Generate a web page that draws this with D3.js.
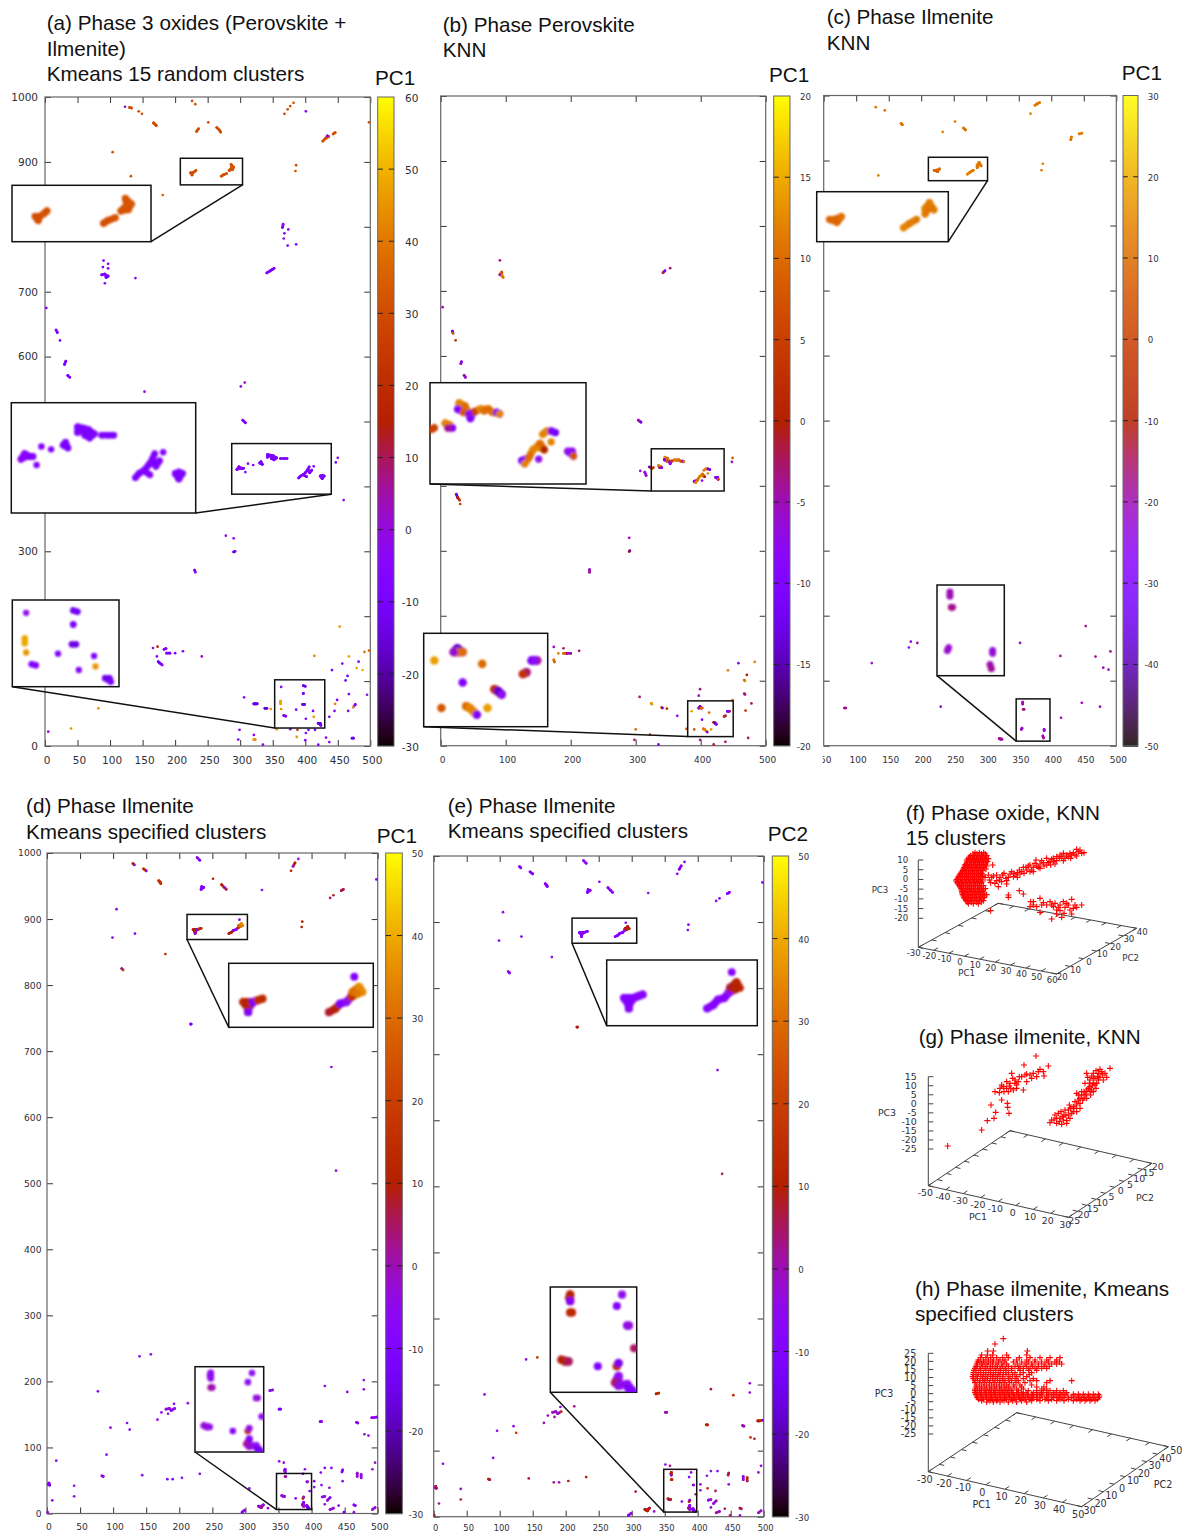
<!DOCTYPE html>
<html>
<head>
<meta charset="utf-8">
<script src="https://d3js.org/d3.v7.min.js"></script>
<style>
  body { margin: 0; background: #fff; }
  svg { display: block; }
  text { fill: #2f2f3a; font-family: "DejaVu Sans", sans-serif; }
  .title, .barname { fill: #111; font-family: "Liberation Sans", Arial, sans-serif; font-size: 20.7px; }
</style>
</head>
<body>
<svg id="chart" width="1182" height="1533"></svg>
<script>
// map points are [x, y, value]
const spotsA = [
  [123,985,0],[130,984,31],[133,983,31],[144,978,31],[149,974,31],[169,958,31],[167,960,31],[171,956,31],[226,994,32],[231,989,33],
  [251,961,30],[236,951,30],[233,947,31],[264,953,30],[268,949,31],[270,946,30],[382,991,32],[377,986,31],[373,981,31],[368,974,30],
  [401,978,-3],[498,961,30],[446,945,30],[443,943,31],[436,939,30],[431,936,31],[427,932,31],[434,940,-8],[104,915,32],[386,895,31],[385,886,31],
  [132,878,30],[181,849,35],[224,883,31],[227,883,31],[230,885,32],[232,887,31],[226,880,31],[271,878,31],[274,880,31],[279,882,32],
  [283,887,32],[287,891,33],[290,892,33],[286,896,32],[288,888,32],[90,748,-7],[89,738,-5],[97,743,-5],[97,736,-7],[87,726,-9],[92,727,-9],
  [97,724,-9],[94,722,-9],[92,713,-5],[139,721,-3],[366,804,-3],[365,799,-5],[374,796,-3],[368,790,-3],[367,782,-3],[373,771,-7],[386,773,-7],
  [341,729,-8],[346,732,-8],[349,734,-8],[352,736,-8],[2,675,-5],[17,641,-8],[19,637,-8],[23,625,-7],[32,593,-8],[30,588,-8],[35,571,-7],[38,568,-8],
  [301,554,0],[307,560,0],[153,546,-3],[304,502,-7],[308,498,-7],[295,426,-4],[298,430,-5],[300,428,-5],[303,428,-8],[305,428,-7],[308,422,-7],
  [312,435,-7],[320,433,-7],[330,436,-10],[334,434,-10],[332,438,-9],[342,449,-8],[342,445,-8],[347,448,-8],[348,443,-8],[352,441,-8],[351,447,-8],
  [356,444,-8],[362,443,-8],[368,443,-8],[372,443,-8],[390,413,-9],[393,416,-8],[397,418,-8],[401,422,-8],[404,426,-8],[406,430,-8],[413,431,-7],
  [410,425,-9],[407,421,-7],[402,415,-5],[426,417,-8],[429,416,-8],[423,416,-8],[426,412,-8],[450,444,-3],[447,437,-7],[459,379,-2],[278,324,-3],
  [290,320,-2],[290,299,-12],[292,300,-10],[230,271,-4],[231,268,-4],[166,151,0],[173,153,15],[183,149,-4],[186,150,-5],[192,143,-8],[187,143,-6],
  [172,138,-4],[174,130,-10],[176,128,-10],[180,125,-2],[200,143,-6],[212,146,-9],[241,138,3],[414,139,42],[453,184,46],[467,138,48],[491,145,40],
  [498,147,35],[482,130,-9],[457,127,-2],[479,120,48],[488,117,50],[441,117,-8],[465,108,-12],[462,101,-12],[449,71,-8],[467,80,-10],[477,64,-6],
  [474,60,46],[446,65,42],[445,54,-6],[466,54,-5],[495,79,0],[474,12,-14],[472,12,-12],[437,6,-7],[437,45,-5],[432,13,-2],[420,2,-8],[299,25,-10],
  [321,17,-3],[321,10,45],[323,10,45],[297,10,-6],[335,2,-5],[306,75,-2],[321,65,-14],[323,65,-14],[326,65,-14],[338,58,-16],[341,58,-14],[347,57,45],
  [82,58,45],[40,27,45],[5,22,0],[363,91,-2],[397,93,-12],[400,92,-12],[397,81,-10],[397,81,-9],[396,64,-14],[399,64,-14],[362,69,48],[362,65,48],[363,57,45],
  [386,56,-8],[367,47,-6],[370,46,-6],[412,54,-8],[413,45,45],[401,42,-6],[420,35,-13],[423,35,-13],[424,32,-10],[405,25,-6],[415,25,-8],[401,20,-3],
  [387,14,45],[400,9,-3],[388,25,25],[356,26,45],[377,26,0]
];

const spotsB = [
  [91,747,-4],[94,729,8],[94,724,12],[96,721,10],[91,725,-6],[353,735,-3],[345,731,-10],[342,728,2],[3,675,-5],[18,638,-12],[19,635,8],[23,624,3],
  [32,591,-10],[31,588,-5],[36,570,-5],[38,567,-6],[24,387,-13],[26,382,0],[29,378,5],[30,372,5],[325,427,5],[335,431,12],[338,430,12],[340,428,-10],
  [337,428,-4],[345,444,12],[344,440,-10],[348,438,8],[353,434,-10],[349,442,10],[355,438,5],[352,437,-8],[360,440,12],[363,439,10],[366,440,10],[369,438,10],
  [372,438,-10],[374,437,12],[390,407,-10],[392,405,12],[395,409,10],[398,414,12],[401,416,12],[403,418,10],[405,424,12],[408,426,12],[414,425,-12],[411,419,12],
  [411,426,-10],[406,414,0],[402,408,-8],[426,413,-8],[423,413,-8],[427,410,8],[304,501,-5],[308,498,-12],[307,423,-6],[314,421,-8],[321,429,-12],[316,416,-5],
  [327,428,5],[449,443,8],[448,437,-6],[290,320,-5],[290,299,2],[291,300,-14],[229,271,-5],[229,267,-4],[174,152,-6],[174,132,10],[175,129,10],[181,142,12],
  [189,150,-3],[189,142,10],[194,142,-4],[200,142,-5],[213,146,-3],[442,116,12],[458,127,-8],[483,129,12],[471,109,0],[467,101,10],[468,100,12],[467,80,5],
  [468,79,-5],[478,65,-3],[469,54,3],[449,70,10],[444,53,-3],[438,46,-3],[473,12,-2],[438,6,-3],[420,2,-1],[399,87,-3],[397,77,-6],[306,75,-3],[324,65,12],
  [325,64,14],[340,59,8],[341,58,-13],[348,57,3],[364,46,-8],[300,25,10],[322,17,5],[298,9,-3],[335,2,-10],[399,60,-14],[399,58,10],[397,58,-6],[402,58,10],
  [386,53,14],[413,51,10],[441,53,-10],[443,53,-8],[436,45,3],[402,40,-10],[420,36,2],[422,35,-14],[424,33,-8],[404,26,10],[406,25,12],[390,25,8],[416,25,14],
  [410,21,-10],[378,26,8],[399,9,-3]
];

const spotsC = [
  [130,982,11],[144,977,11],[169,957,11],[171,955,11],[252,960,12],[265,950,11],[268,947,11],[233,944,14],[382,989,12],[375,985,12],[378,987,12],[368,972,13],
  [447,942,13],[443,941,13],[431,936,12],[430,932,12],[387,895,13],[385,885,12],[134,877,14],[220,885,9],[223,885,9],[225,883,9],[228,887,11],[271,879,14],[275,882,13],
  [280,885,12],[286,893,13],[289,894,12],[292,892,12],[286,889,12],[289,897,13],[184,160,-22],[181,151,-25],[194,158,-18],[124,127,-22],[82,58,-18],[84,58,-17],
  [230,60,-22],[352,158,-24],[453,184,-18],[414,138,-18],[468,137,-18],[491,145,-18],[480,120,-20],[488,117,-22],[447,66,-20],[475,60,-22],[415,43,-20],[322,10,-18],
  [320,11,-18],[324,10,-18],[356,67,-20],[356,64,-20],[357,56,-16],[358,56,-18],[355,27,-22],[354,25,-22],[389,25,-24],[389,23,-22],[387,15,-20],[388,12,-18]
];

// same pixels in (d) and (e): x, y, PC1, PC2
const ilmenitePoints = [
  [130,984,10,-7],[132,982,-5,-8],[146,976,15,-7],[150,973,-5,-8],[169,958,18,-6],[171,956,15,-7],[172,954,15,-6],[227,993,-5,-5],[231,989,-8,-6],[251,961,12,-7],
  [234,949,-10,-8],[237,948,-8,-6],[233,945,-10,-8],[264,952,10,-7],[268,948,-2,-8],[271,945,12,-7],[380,991,-3,-8],[375,985,10,-7],[372,980,-3,-8],[369,973,12,-7],
  [325,944,-5,-5],[498,960,-8,-7],[445,943,5,-8],[448,945,8,-7],[433,936,8,-8],[428,932,3,-8],[105,915,-8,-6],[133,878,-10,-7],[99,872,-5,-5],[179,847,15,-6],
  [113,825,0,-5],[115,823,20,-5],[386,896,12,-7],[385,888,10,-7],[217,741,-10,8],[218,741,-8,10],[430,676,-5,-5],[437,519,-5,5],
  [221,884,12,-9],[224,884,10,-9],[227,884,-8,-9],[230,885,14,-8],[233,886,14,-8],[224,880,10,-9],[224,878,-10,-8],
  [275,878,8,-8],[279,880,10,-8],[282,883,-10,-8],[286,884,-6,-8],[289,887,15,-6],[290,890,30,8],[294,893,35,10],[296,890,35,12],[293,889,32,10],[291,899,-10,-8],
  [140,238,-5,-3],[157,241,-5,18],[77,185,-5,-4],[121,137,-5,-4],[125,127,-8,18],[96,130,-5,-4],[90,89,-5,-4],[14,80,-5,-4],[3,46,-8,8],[2,44,-8,-5],[4,43,-8,8],
  [83,57,-5,8],[85,56,-6,8],[8,20,-5,3],[41,42,-5,-3],[41,26,-3,8],[144,58,-5,5],[182,52,-8,3],[190,52,-8,0],[204,54,-5,8],[231,60,-5,10],[167,142,-5,0],[173,153,-5,-2],
  [180,158,-5,0],[183,151,-5,3],[185,159,-5,-3],[188,156,-5,-2],[193,159,-5,18],[192,166,-10,-5],[213,167,-5,3],
  [360,67,-5,12],[359.5,65,-6,10],[360,63,-5,-8],[360,56,2,15],[361,56,0,12],[387,60,-6,-8],[390,67,-6,-5],[393,48,-6,-8],[397,34,-6,5],[357,26,-3,8],[359,26,-5,5],
  [355,27,-3,10],[376,23,-8,-10],[387,23,15,12],[388,25,-6,-12],[388,17,-8,-6],[386,13,2,5],[388,11,-3,-5],[393,12,-6,-6],[394,9,-14,-12],[396,8,-14,-10],
  [337,186,-5,10],[341,187,-5,15],[351,158,-8,2],[353,158,-8,-2],[420,193,-8,5],[454,184,-4,15],[479,202,-4,-3],[479,188,-4,-4],[413,139,-5,10],[415,139,-6,12],
  [468,138,-6,2],[470,137,-6,-2],[480,120,-4,15],[486,118,-5,8],[491,145,-6,10],[493,145,-6,10],[498,146,-8,-8],[351,79,-6,-6],[358,77,-3,3],[414,62,-6,-4],[420,69,-3,-3],
  [430,69,-6,-7],[447,66,-7,8],[446,63,-8,5],[447,49,-3,-3],[469,61,-3,-3],[475,59,-6,15],[469,56,-3,-3],[475,54,-3,5],[492,67,-3,-3],[496,77,-3,-2],[394,48,-3,-3],
  [404,49,-3,-5],[404,40,-3,-5],[415,43,-6,15],[427,39,-3,5],[416,25,-5,-4],[420,26,-3,-3],[424,20,-4,-5],[420,14,-6,-3],[428,24,-6,3],[441,12,-3,5],[433,8,-3,-2],
  [428,6,-3,3],[464,13,-10,8],[466,12,-8,5],[464,2,-5,-3],[449,2,-15,5],[492,6,-3,-2],[496,9,-3,0],[322,10,5,12],[320,11,-8,8],[324,9,2,10],[327,13,-5,5],[334,8,-3,-3],
  [299,5,-3,-3],[295,2,-8,-8],[306,38,-5,5],[1,2,-5,8]
];

// PC1 readout for the oxide maps: colour bar ranges and labels
const ticksA = [60,50,40,30,20,10,0,-10,-20,-30];
const ticksB = [20,15,10,5,0,-5,-10,-15,-20];
const ticksC = [30,20,10,0,-10,-20,-30,-40,-50];
const ticksD = [50,40,30,20,10,0,-10,-20,-30];
const ticksE = [50,40,30,20,10,0,-10,-20,-30];

// 3D scatter clouds, read in the projected picture plane as [y, x, x, ...] rows or [x, y] pairs
const cloudFRows = [
  [188,345,358,371],[197,332,344,357,368,380],[206,325,338,349,361,373,385],[215,322,335,346,358,370,382],[224,316,328,341,352,364,376],
  [233,312,325,336,349,360,372],[242,308,320,333,344,356,368],[251,302,315,326,338,351,362],[260,296,308,321,332,344,357,368],[269,290,302,315,326,339,350,362],
  [278,292,305,316,328,341,352,364],[287,298,310,323,334,346,359,370],[296,304,317,328,340,353,364,376],[305,306,318,331,342,354,366],[314,308,321,332,344,357,368,380],
  [323,312,324,337,348,360,372],[332,318,331,345,358,370],[341,325,340,355],
  [192,339,351,364,376],[201,328,340,352,364,376],[210,320,331,343,355,367,379],[219,319,330,342,354,366,378],[228,314,322,334,346,358,370,380],[237,310,318,330,342,354,366,378],
  [246,304,314,326,338,350,362],[255,298,308,320,332,344,356,368],[264,293,302,314,326,338,350,362],[273,288,296,308,320,332,344,356,368],[282,294,298,310,322,334,346,358],
  [291,300,304,316,328,340,352,364],[300,304,310,322,334,346,358,370],[309,306,312,324,336,348,360,372],[318,310,314,326,338,350,362,374],[327,315,318,330,342,354,366],[336,322,334,350,364]
];
const cloudFPairs = [
  [375,262],[388,270],[400,258],[410,272],[420,262],[432,250],[445,262],[455,245],[468,255],[478,240],[490,232],[492,250],[505,228],[515,240],[525,220],[535,232],
  [545,212],[552,228],[565,218],[575,208],[585,222],[598,205],[610,212],[620,195],[632,205],[640,188],[650,198],[660,180],[672,188],[655,185],[630,190],[605,200],
  [580,215],[560,205],[540,222],[520,232],[500,240],[480,252],[460,260],[440,272],[425,275],[410,255],[395,262],[365,250],[398,225],[415,290],[440,282],[445,315],
  [445,322],[478,302],[490,312],[512,335],[520,345],[510,350],[540,325],[545,345],[560,345],[570,335],[580,350],[590,360],[600,345],[610,335],[615,352],[625,345],
  [635,328],[640,355],[650,352],[665,345],[590,372],[612,370],[635,372],[540,367],[575,387],[605,382],[392,362],
  [385,255],[392,278],[405,280],[418,270],[428,255],[438,265],[450,252],[462,250],[472,262],[485,245],[498,232],[510,225],[520,245],[530,228],[540,235],[550,218],
  [560,225],[570,215],[580,205],[590,212],[600,195],[615,205],[625,200],[645,195],[665,190],[650,178],[635,195],[610,190],[590,200],[572,225],[528,210],[510,245],[472,248],
  [520,335],[530,350],[550,338],[575,345],[595,352],[620,340],[630,360],[645,345],[600,362],[585,340]
];
const cloudGPairs = [
  [570,998],[582,990],[590,1000],[600,985],[605,1003],[612,975],[620,992],[595,970],[625,960],[630,985],[640,950],[635,970],[650,965],[645,935],[655,915],[660,940],
  [668,930],[672,905],[680,925],[685,895],[692,915],[700,880],[695,900],[708,895],[715,870],[705,865],[690,870],[680,850],[700,850],[715,850],[725,845],[720,862],
  [730,870],[740,862],[750,835],[710,880],[675,880],[665,905],[650,910],[625,975],[610,990],[585,975],[735,850],[700,905],[690,890],[678,912],[660,925],[642,955],
  [575,990],[590,985],[598,995],[608,980],[618,975],[603,965],[615,960],[632,955],[628,945],[640,965],[650,945],[660,955],[655,930],[665,915],[675,915],[680,900],
  [690,905],[697,885],[705,885],[712,860],[700,865],[695,858],[688,880],[683,862],[708,842],[720,838],[728,855],[672,925],[620,1000],
  [405,905],[418,908],[430,890],[425,885],[440,895],[450,880],[455,850],[465,870],[470,885],[478,860],[490,900],[492,825],[495,855],[510,855],[500,875],[520,850],
  [530,860],[540,838],[550,845],[552,858],[565,828],[528,798],[445,905],[460,900],[440,875],[458,865],[425,930],[393,945],[442,940],[443,952],[447,970],[407,967],
  [382,992],[402,985],[365,1020],[263,1068],
  [432,905],[448,888],[465,880],[475,875],[485,860],[500,852],[515,865],[535,845],[452,895],[420,895],[470,895]
];
const cloudHRows = [
  [446,430],[462,405],[483,383,400,502],[495,365,382,398,440,500],[510,355,370,385,400,420,435,470,500,525,560,590],
  [522,350,365,378,392,408,425,440,472,495,515,535,555,575,590,605],[535,345,360,375,390,405,420,435,455,475,490,510,525,545,560],
  [548,340,355,370,385,400,415,430,445,465,490,515],[560,338,352,368,382,398,412,428,450,470,500],[572,345,360,375,390,405,420,435,455,475,510,530,570,635],
  [585,350,365,380,395,410,425,440,460,480,515],[597,345,360,375,390,405,420,435,450,470,490,545,560],
  [608,345,358,372,386,400,414,428,442,456,470,484,498,520,540,560,580,600,620],
  [618,350,364,378,392,406,420,434,448,462,476,490,504,518,532,546,560,574,590,606,624,645,660,675,690,705,718],
  [628,356,370,384,398,412,426,440,454,468,482,496,510,530,555,575,600,625,650,665,680,695,712],[636,380,400,420,445,470,500],
  [503,362,378,392,410,428,445,478,510,540,570,600],[516,352,360,372,385,398,415,432,460,485,505,525,545,565,585,598],
  [529,348,352,368,382,398,412,428,445,465,480,500,518,535,552,568],[541,342,348,362,378,392,408,422,438,455,480,505,530],
  [554,340,348,362,376,392,406,420,438,458,480,508],[566,340,352,368,382,398,412,428,445,465,490,520],
  [578,345,358,372,388,402,418,432,448,468,495,560],[591,348,358,372,388,402,418,432,445,462,485,530,552],
  [602,345,352,365,380,394,408,424,438,455,475,505,530,550,570,590,610],
  [613,348,362,376,390,404,418,432,446,460,474,488,502,515,530,545,565,585,600,615,640,655,670,685,700,715],
  [623,352,366,380,394,408,422,436,450,464,478,492,506,520,540,560,580,595,612,635,655,670,685,700,716],
  [632,365,390,410,432,458,485,515,540,565,590,612,640,660,675,690,705]
];

const svg = d3.select("#chart");
const defs = svg.append("defs");
defs.append("filter").attr("id", "soft").append("feGaussianBlur").attr("stdDeviation", 0.4);
defs.append("filter").attr("id", "softer").append("feGaussianBlur").attr("stdDeviation", 0.9);

// gnuplot's default pm3d palette
const pm3d = t => {
  const c = Math.max(0, Math.min(1, t));
  return d3.rgb(255 * Math.sqrt(c), 255 * c * c * c, 255 * Math.max(0, Math.sin(2 * Math.PI * c))).formatHex();
};

function addTitle(x, y, lines) {
  lines.forEach((line, i) => {
    svg.append("text").attr("class", "title")
      .attr("x", x).attr("y", y[i]).text(line);
  });
}

// neighbouring map pixels merge into one blob
function neighbourPairs(points) {
  const pairs = [];
  points.forEach((a, i) => {
    for (let j = i + 1; j < points.length; j++) {
      const b = points[j];
      if (Math.hypot(a[0] - b[0], a[1] - b[1]) <= 6) pairs.push([a, b]);
    }
  });
  return pairs;
}

function drawSpots(parent, points, xs, ys, r, fill, filterId) {
  const layer = parent.append("g").attr("filter", `url(#${filterId})`);
  layer.selectAll("line").data(neighbourPairs(points)).join("line")
    .attr("x1", d => xs(d[0][0])).attr("y1", d => ys(d[0][1]))
    .attr("x2", d => xs(d[1][0])).attr("y2", d => ys(d[1][1]))
    .attr("stroke", d => fill(d[0])).attr("stroke-width", 2 * r).attr("stroke-linecap", "round");
  layer.selectAll("circle").data(points).join("circle")
    .attr("cx", d => xs(d[0])).attr("cy", d => ys(d[1])).attr("r", r)
    .attr("fill", fill);
}

let clipId = 0;
function drawMap(cfg) {
  const g = svg.append("g");
  const x = d3.scaleLinear().domain(cfg.xDomain).range([cfg.left, cfg.right]);
  const y = d3.scaleLinear().domain([0, 1000]).range([cfg.bottom, cfg.top]);
  const color = d3.scaleSequential(pm3d).domain(d3.extent(cfg.ticks));
  const xValues = d3.range(cfg.xDomain[0], 501, cfg.xStep);
  const yValues = d3.range(0, 1001, 100);

  // ticks point inward on all four sides
  const axisB = g.append("g").attr("transform", `translate(0,${cfg.bottom})`)
    .call(d3.axisBottom(x).tickValues(xValues).tickSizeInner(-6).tickSizeOuter(0).tickPadding(cfg.xPad));
  g.append("g").attr("transform", `translate(0,${cfg.top})`)
    .call(d3.axisTop(x).tickValues(xValues).tickSizeInner(-6).tickSizeOuter(0).tickFormat(""));
  const axisL = g.append("g").attr("transform", `translate(${cfg.left},0)`)
    .call(d3.axisLeft(y).tickValues(yValues).tickSizeInner(-6).tickSizeOuter(0).tickPadding(cfg.yPad)
      .tickFormat(cfg.yLabels ? d3.format("d") : ""));
  g.append("g").attr("transform", `translate(${cfg.right},0)`)
    .call(d3.axisRight(y).tickValues(yValues).tickSizeInner(-6).tickSizeOuter(0).tickFormat(""));
  g.selectAll("g .domain").remove();
  g.selectAll("g .tick line").attr("stroke", "#333");
  axisB.selectAll("text").attr("dx", 1.5).style("font-size", cfg.font + "px");
  axisL.selectAll("text").style("font-size", cfg.font + "px");
  if (cfg.clipLabels) {
    const id = "clip" + (++clipId);
    defs.append("clipPath").attr("id", id).append("rect")
      .attr("x", cfg.left - 1).attr("y", 0).attr("width", 1182 - cfg.left).attr("height", 1533);
    axisB.attr("clip-path", `url(#${id})`);
  }
  g.append("rect").attr("x", cfg.left).attr("y", cfg.top)
    .attr("width", cfg.right - cfg.left).attr("height", cfg.bottom - cfg.top)
    .attr("fill", "none").attr("stroke", "#666").attr("stroke-width", 1.2);

  drawSpots(g, cfg.points, x, y, 1.35, d => color(d[cfg.valueIndex]), "soft");

  // colour bar
  const bar = g.append("g");
  const barY = d3.scaleLinear().domain(color.domain()).range([cfg.bottom, cfg.top]);
  d3.range(cfg.top, cfg.bottom).forEach(py => {
    bar.append("rect").attr("x", cfg.barLeft).attr("y", py)
      .attr("width", cfg.barRight - cfg.barLeft).attr("height", 1.2)
      .attr("fill", color(barY.invert(py + 0.5)));
  });
  bar.append("rect").attr("x", cfg.barLeft).attr("y", cfg.top)
    .attr("width", cfg.barRight - cfg.barLeft).attr("height", cfg.bottom - cfg.top)
    .attr("fill", "none").attr("stroke", "#666");
  const mid = (cfg.barRight - cfg.barLeft) * 0.32;
  cfg.ticks.forEach(v => {
    if (v !== color.domain()[0] && v !== color.domain()[1]) {
      [[cfg.barLeft, cfg.barLeft + mid], [cfg.barRight - mid, cfg.barRight]].forEach(s => {
        bar.append("line").attr("x1", s[0]).attr("x2", s[1])
          .attr("y1", barY(v)).attr("y2", barY(v)).attr("stroke", "#222");
      });
    }
    bar.append("text").attr("x", cfg.barText + (v < 0 ? -3.2 : 0)).attr("y", barY(v) + 1)
      .attr("dy", "0.35em").style("font-size", cfg.barFont + "px").text(v);
  });
  svg.append("text").attr("class", "barname").attr("x", cfg.barName[0]).attr("y", cfg.barName[1]).text(cfg.barLabel);

  cfg.insets.forEach(inset => drawInset(cfg, g, x, y, color, inset));
}

function drawInset(cfg, g, x, y, color, inset) {
  const [x0, x1, y0, y1] = inset.src;
  const view = inset.view || inset.src;
  const d = inset.dst;
  const sx = x(x0), sr = x(x1), st = y(y1), sb = y(y0);
  const ix = d3.scaleLinear().domain([view[0], view[1]]).range([d.l, d.r]);
  const iy = d3.scaleLinear().domain([view[2], view[3]]).range([d.b, d.t]);
  const zoom = ((d.r - d.l) / (x(view[1]) - x(view[0])) + (d.b - d.t) / (y(view[2]) - y(view[3]))) / 2;

  const frame = (l, t, w, h) => g.append("rect").attr("x", l).attr("y", t).attr("width", w).attr("height", h)
    .attr("stroke", "#111").attr("stroke-width", 1.5);
  frame(sx, st, sr - sx, sb - st).attr("fill", "none");
  frame(d.l, d.t, d.r - d.l, d.b - d.t).attr("fill", "#fff");

  const id = "clip" + (++clipId);
  defs.append("clipPath").attr("id", id).append("rect")
    .attr("x", d.l).attr("y", d.t).attr("width", d.r - d.l).attr("height", d.b - d.t);
  const inside = cfg.points.filter(p => p[0] >= view[0] && p[0] <= view[1] && p[1] >= view[2] && p[1] <= view[3]);
  const clipped = g.append("g").attr("clip-path", `url(#${id})`);
  drawSpots(clipped, inside, ix, iy, 1.6 * zoom, p => color(p[cfg.valueIndex]), "softer");

  const onRight = inset.corner === "br";
  g.append("line").attr("x1", onRight ? sr : sx).attr("y1", sb)
    .attr("x2", onRight ? d.r : d.l).attr("y2", d.b)
    .attr("stroke", "#111").attr("stroke-width", 1.5);
}

function draw3d(cfg) {
  const g = svg.append("g");
  const pc1 = d3.scaleLinear().domain(cfg.pc1Domain).range([0, 1]);
  const pc2 = d3.scaleLinear().domain(cfg.pc2Domain).range([0, 1]);
  const z = d3.scaleLinear().domain([cfg.zTicks[cfg.zTicks.length - 1], cfg.zTicks[0]]).range(cfg.zRange);
  const { L, B, R, K } = cfg;
  const along = (a, b, t) => [a[0] + (b[0] - a[0]) * t, a[1] + (b[1] - a[1]) * t];
  const seg = (a, b) => g.append("line").attr("x1", a[0]).attr("y1", a[1]).attr("x2", b[0]).attr("y2", b[1])
    .attr("stroke", "#444").attr("stroke-width", 1);

  seg(L, B); seg(B, R); seg(R, K); seg(K, L);
  seg(L, [L[0], cfg.zRange[1]]);

  const unit = (a, b, len) => {
    const n = Math.hypot(b[0] - a[0], b[1] - a[1]);
    return [(b[0] - a[0]) / n * len, (b[1] - a[1]) / n * len];
  };
  const inward = unit(L, K, 5), across = unit(L, B, 5);
  cfg.pc1Ticks.forEach(v => {
    const p = along(L, B, pc1(v)), q = along(K, R, pc1(v));
    seg(p, [p[0] + inward[0], p[1] + inward[1]]);
    seg(q, [q[0] - inward[0], q[1] - inward[1]]);
    g.append("text").attr("x", p[0] + cfg.pc1Offset[0]).attr("y", p[1] + cfg.pc1Offset[1])
      .attr("text-anchor", "middle").attr("dy", "0.35em").style("font-size", cfg.font + "px").text(v);
  });
  cfg.pc2Ticks.forEach(v => {
    const p = along(B, R, pc2(v)), q = along(L, K, pc2(v));
    seg(p, [p[0] - across[0], p[1] - across[1]]);
    seg(q, [q[0] + across[0], q[1] + across[1]]);
    g.append("text").attr("x", p[0] + cfg.pc2Offset[0]).attr("y", p[1] + cfg.pc2Offset[1])
      .attr("text-anchor", "middle").attr("dy", "0.35em").style("font-size", cfg.font + "px").text(Math.abs(v));
  });
  cfg.zTicks.forEach(v => {
    seg([L[0], z(v)], [L[0] + 5, z(v)]);
    g.append("text").attr("x", L[0] - cfg.zPad).attr("y", z(v)).attr("text-anchor", "end")
      .attr("dy", "0.35em").style("font-size", cfg.font + "px").text(v);
  });
  cfg.names.forEach(n => {
    g.append("text").attr("x", n[1]).attr("y", n[2]).attr("text-anchor", "middle").attr("dy", "0.35em")
      .style("font-size", cfg.font + "px").text(n[0]);
  });

  const vx = d3.scaleLinear().domain([0, 966]).range([860, 1182]);
  const vy = d3.scaleLinear().domain([0, 1200]).range(cfg.viewRange);
  g.append("g").selectAll("path").data(cfg.cloud).join("path")
    .attr("transform", d => `translate(${vx(d[0])},${vy(d[1])})`)
    .attr("d", "M-3,0H3M0,-3V3")
    .attr("stroke", "#ff0000").attr("stroke-width", 1.1).attr("fill", "none");
}

const unrow = rows => rows.flatMap(r => r.slice(1).map(px => [px, r[0]]));

// (a)
addTitle(46.7, [30, 55.7, 81], ["(a) Phase 3 oxides (Perovskite +", "Ilmenite)", "Kmeans 15 random clusters"]);
drawMap({
  xDomain: [0, 500], xStep: 50, left: 45, right: 370.3, top: 97, bottom: 746, xPad: 11, yPad: 7, yLabels: true, font: 10.5,
  points: spotsA, valueIndex: 2, ticks: ticksA, barLeft: 377.7, barRight: 394, barText: 405, barFont: 10.5,
  barLabel: "PC1", barName: [375, 85],
  insets: [
    { src: [208, 303.6, 864.6, 905.6], dst: { l: 12, t: 185.3, r: 151, b: 241.7 }, corner: "br" },
    { src: [287, 440, 388, 466], dst: { l: 11.3, t: 402.7, r: 195.7, b: 513 }, corner: "br" },
    { src: [353, 430, 27.7, 102], dst: { l: 12.3, t: 600, r: 119, b: 686.7 }, corner: "bl" }
  ]
});

// (b)
addTitle(442.7, [31.7, 57], ["(b) Phase Perovskite", "KNN"]);
drawMap({
  xDomain: [0, 500], xStep: 100, left: 440.7, right: 765.7, top: 96, bottom: 745.7, xPad: 11, yPad: 7, yLabels: false, font: 9,
  points: spotsB, valueIndex: 2, ticks: ticksB, barLeft: 773.7, barRight: 790, barText: 800, barFont: 8.6,
  barLabel: "PC1", barName: [769, 82],
  insets: [
    { src: [324, 436, 392, 457], dst: { l: 430, t: 382.7, r: 586, b: 484 }, corner: "bl" },
    { src: [380, 450, 14, 69], dst: { l: 423.7, t: 633.3, r: 547.7, b: 726.7 }, corner: "bl" }
  ]
});

// (c)
addTitle(826.7, [24.3, 50], ["(c) Phase Ilmenite", "KNN"]);
drawMap({
  xDomain: [50, 500], xStep: 50, left: 823.7, right: 1116.3, top: 95.5, bottom: 745.7, xPad: 11, yPad: 7, yLabels: false, font: 9, clipLabels: true,
  points: spotsC, valueIndex: 2, ticks: ticksC, barLeft: 1123, barRight: 1138, barText: 1147.7, barFont: 8.6,
  barLabel: "PC1", barName: [1121.7, 80],
  insets: [
    { src: [211, 302, 869, 905], dst: { l: 816.7, t: 191.7, r: 948.3, b: 241.7 }, corner: "br" },
    { src: [346, 398, 7, 72], dst: { l: 937, t: 585, r: 1004.3, b: 675.7 }, corner: "bl" }
  ]
});

// (d)
addTitle(26, [813.3, 839], ["(d) Phase Ilmenite", "Kmeans specified clusters"]);
drawMap({
  xDomain: [0, 500], xStep: 50, left: 47, right: 377.7, top: 853, bottom: 1513.5, xPad: 10, yPad: 5.5, yLabels: true, font: 9.2,
  points: ilmenitePoints, valueIndex: 2, ticks: ticksD, barLeft: 385.7, barRight: 402.3, barText: 411.7, barFont: 9,
  barLabel: "PC1", barName: [376.7, 842.7],
  insets: [
    { src: [211.7, 303, 869, 907], dst: { l: 228.7, t: 963.3, r: 373.3, b: 1027.3 }, corner: "bl" },
    { src: [347, 400, 6, 60.6], view: [348.5, 398.5, 7, 71.7], dst: { l: 195, t: 1366.7, r: 263.7, b: 1452 }, corner: "bl" }
  ]
});

// (e)
addTitle(447.7, [812.7, 838.3], ["(e) Phase Ilmenite", "Kmeans specified clusters"]);
drawMap({
  xDomain: [0, 500], xStep: 50, left: 433.7, right: 763.7, top: 856, bottom: 1516.7, xPad: 8, yPad: 7, yLabels: false, font: 8.4,
  points: ilmenitePoints, valueIndex: 3, ticks: ticksE, barLeft: 772.3, barRight: 788.7, barText: 798.3, barFont: 8.6,
  barLabel: "PC2", barName: [767.7, 840.7],
  insets: [
    { src: [209.6, 307.6, 868, 906], dst: { l: 606.7, t: 960, r: 757.3, b: 1025.7 }, corner: "bl" },
    { src: [348.5, 398.5, 7, 71.7], dst: { l: 550.3, t: 1287, r: 636.7, b: 1392.3 }, corner: "bl" }
  ]
});

// (f)
addTitle(905.7, [820, 845], ["(f) Phase oxide, KNN", "15 clusters"]);
draw3d({
  L: [918.3, 947.3], B: [1056.7, 974], R: [1136.7, 928.3], K: [998.3, 903.3],
  pc1Domain: [-30, 60], pc1Ticks: d3.range(-30, 61, 10), pc2Domain: [-20, 40], pc2Ticks: d3.range(-20, 41, 10),
  zTicks: [10, 5, 0, -5, -10, -15, -20], zRange: [918.3, 860], zPad: 10, font: 8.6,
  pc1Offset: [-4.5, 6], pc2Offset: [5.5, 3.3],
  names: [["PC3", 880, 890], ["PC1", 966.7, 972.7], ["PC2", 1130.7, 958.3]],
  viewRange: [790, 1190], cloud: unrow(cloudFRows).concat(cloudFPairs)
});

// (g)
addTitle(918.7, [1044], ["(g) Phase ilmenite, KNN"]);
draw3d({
  L: [928.3, 1185.7], B: [1068.3, 1217.3], R: [1151.7, 1163.3], K: [1010, 1130.7],
  pc1Domain: [-50, 30], pc1Ticks: d3.range(-50, 31, 10), pc2Domain: [-25, 20], pc2Ticks: d3.range(-25, 21, 5),
  zTicks: [15, 10, 5, 0, -5, -10, -15, -20, -25], zRange: [1149, 1076.7], zPad: 11.5, font: 9.4,
  pc1Offset: [-3, 7], pc2Offset: [6, 3],
  names: [["PC3", 887, 1113], ["PC1", 978, 1217], ["PC2", 1145, 1198]],
  viewRange: [790, 1190], cloud: cloudGPairs
});

// (h)
addTitle(915, [1296, 1321], ["(h) Phase ilmenite, Kmeans", "specified clusters"]);
draw3d({
  L: [928.3, 1471.7], B: [1081.7, 1506.7], R: [1168.3, 1446.7], K: [1016.7, 1412.7],
  pc1Domain: [-30, 50], pc1Ticks: d3.range(-30, 51, 10), pc2Domain: [-30, 50], pc2Ticks: d3.range(-30, 51, 10),
  zTicks: [25, 20, 15, 10, 5, 0, -5, -10, -15, -20, -25], zRange: [1434, 1353.3], zPad: 12, font: 9.6,
  pc1Offset: [-3.5, 7.5], pc2Offset: [8, 4],
  names: [["PC3", 884, 1394], ["PC1", 981.7, 1505], ["PC2", 1163, 1485]],
  viewRange: [1190, 1590], cloud: unrow(cloudHRows)
});
</script>
</body>
</html>
